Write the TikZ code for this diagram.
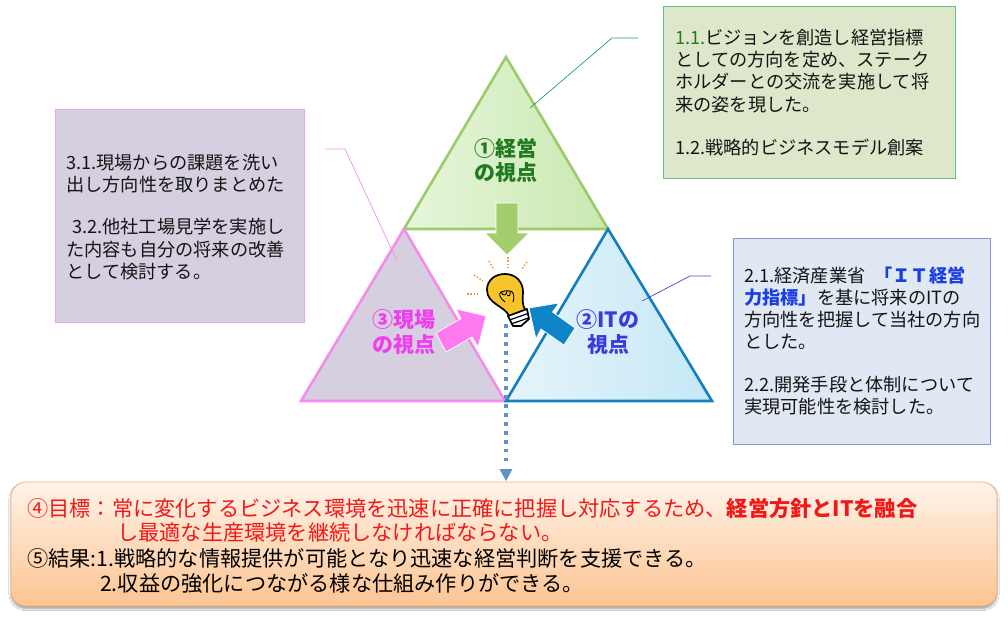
\documentclass[tikz,border=0pt]{standalone}
\usepackage{fontspec}
\setmainfont{Noto Sans CJK JP}
\usetikzlibrary{shadows.blur}
\definecolor{gtxt}{HTML}{1E7B1E}
\definecolor{itxt}{HTML}{3A3AE0}
\definecolor{ptxt}{HTML}{F23CF0}
\definecolor{pborder}{HTML}{F48CEC}
\definecolor{gborder}{HTML}{9CCB6C}
\definecolor{bborder}{HTML}{1380BC}
\definecolor{redtxt}{HTML}{F01818}
\definecolor{bluebold}{HTML}{1A3EE0}
\definecolor{gbox}{HTML}{DFE7CB}
\definecolor{pbox}{HTML}{D5CFE0}
\definecolor{bbox}{HTML}{E0E8F4}
\tikzset{
 x=1pt,y=-1pt,
 bodytxt/.style={anchor=west,inner sep=0pt,font=\fontsize{18.2}{18}\selectfont,text=black!92},
 vhead/.style={anchor=center,align=center,inner sep=0pt,font=\fontsize{21}{24.5}\selectfont\bfseries},
 goaltxt/.style={anchor=west,inner sep=0pt,font=\fontsize{21.2}{21}\selectfont},
 lead/.style={line width=0.7pt},
 fatarrow/.style={draw=white,line width=0.7pt,line join=miter},
 spark/.style={draw=orange!70!brown!80,line width=1.4pt,dash pattern=on 1.5pt off 1.8pt},
 tri/.style={line width=2.6pt,line join=miter},
}
\begin{document}
\begin{tikzpicture}
\useasboundingbox (0,0) rectangle (1008,616);
\fill[white] (0,0) rectangle (1008,616);
% text boxes
\draw[draw={rgb,255:red,102;green,190;blue,136},line width=0.9pt,fill=gbox] (663,6) rectangle (955,178);
\draw[draw={rgb,255:red,240;green,168;blue,232},line width=0.9pt,fill=pbox] (55,109) rectangle (304,322);
\draw[draw={rgb,255:red,136;green,148;blue,216},line width=0.9pt,fill=bbox] (733,238) rectangle (990,444);
% triangles
\path[tri,left color={rgb,255:red,232;green,246;blue,220},right color={rgb,255:red,200;green,232;blue,176},draw=gborder] (506,57) -- (608,229) -- (404,229) -- cycle;
\path[tri,fill=pbox,draw=pborder] (404,229) -- (505,401) -- (301,401) -- cycle;
\path[tri,left color={rgb,255:red,230;green,244;blue,251},right color={rgb,255:red,196;green,232;blue,246},draw=bborder] (608,229) -- (712,401) -- (506,401) -- cycle;
% leaders
\coordinate (gA) at (530,108); \coordinate (gB) at (612,38); \coordinate (gC) at (638,38);
\coordinate (pA) at (397,261); \coordinate (pB) at (345,149); \coordinate (pC) at (325,149);
\coordinate (bA) at (642,301); \coordinate (bB) at (690,276); \coordinate (bC) at (711,276);
\draw[lead,draw={rgb,255:red,30;green,160;blue,110}] (gA)--(gB)--(gC);
\draw[lead,draw=pborder] (pA)--(pB)--(pC);
\draw[lead,draw={rgb,255:red,70;green,70;blue,220}] (bA)--(bB)--(bC);
% fat arrows
\path[fatarrow,fill={rgb,255:red,164;green,206;blue,108}] (496,203) -- (518,203) -- (518,233) -- (529,233) -- (507,255) -- (485,233) -- (496,233) -- cycle;
\path[fatarrow,fill={rgb,255:red,255;green,122;blue,240}] (436,333) -- (461,318.5) -- (456,309) -- (486,316) -- (478,347) -- (472,337) -- (446,352) -- cycle;
\path[fatarrow,fill={rgb,255:red,13;green,132;blue,200}] (529,308) -- (559,303) -- (552.5,312) -- (575,328) -- (564,345) -- (541,329) -- (536,339) -- cycle;
% dotted arrow
\draw[line width=3.8pt,dash pattern=on 3.8pt off 5.1pt,draw={rgb,255:red,94;green,146;blue,199}] (506,324) -- (506,462);
\fill[fill={rgb,255:red,94;green,146;blue,199}] (499.5,469) -- (512.5,469) -- (506,481) -- cycle;
% bulb
\draw[black,line width=1.7pt,fill={rgb,255:red,248;green,196;blue,44},line join=round] (509,316) .. controls (505,306) and (487,304) .. (487,290) .. controls (487,280) and (495,274) .. (505,274) .. controls (516,274) and (523,282) .. (523,292) .. controls (523,299) and (521,303) .. (526,311) -- cycle;
\draw[black,line width=1.7pt,fill=white,line join=round] (508,316) -- (527,309) -- (529,319) -- (521,326) -- (513,326) -- cycle;
\draw[black,line width=1.2pt] (509.5,320) -- (528,313.5) (511,324) -- (528.5,318);
\draw[black,line width=0.9pt] (505,302) .. controls (500,298) and (498,294) .. (501,292) .. controls (504,290) and (507,291) .. (510,291) .. controls (513,291) and (515,295) .. (513,302) (501,292) .. controls (503,297) and (507,295) .. (507,291) (507,295) .. controls (509,297) and (511,295) .. (510,291);
% sparks
\foreach \a/\b/\c/\d in {508/257/508/268,489/261/494/270,527/262/521/270,474/275/483/281,467/294/478/294}{\draw[spark] (\a,\b)--(\c,\d);}
% triangle labels
\node[vhead,text=gtxt] (head1) at (506,160.5) {①経営\\の視点};
\node[vhead,text=itxt] (head2) at (608,332) {②ITの\\視点};
\node[vhead,text=ptxt] (head3) at (404,332) {③現場\\の視点};
% green text
\node[bodytxt] (g1) at (675,38) {\textcolor{gtxt}{1.1.}ビジョンを創造し経営指標};
\node[bodytxt] (g2) at (675,60) {としての方向を定め、ステーク};
\node[bodytxt] (g3) at (675,82) {ホルダーとの交流を実施して将};
\node[bodytxt] (g4) at (675,105) {来の姿を現した。};
\node[bodytxt] (g5) at (675,147) {1.2.戦略的ビジネスモデル創案};
% purple text
\node[bodytxt] (p1) at (66,163) {3.1.現場からの課題を洗い};
\node[bodytxt] (p2) at (66,185) {出し方向性を取りまとめた};
\node[bodytxt] (p3) at (72,227) {3.2.他社工場見学を実施し};
\node[bodytxt] (p4) at (66,250) {た内容も自分の将来の改善};
\node[bodytxt] (p5) at (66,272) {として検討する。};
% blue text
\node[bodytxt] (b1) at (744,276) {2.1.経済産業省\hspace{9pt}\textcolor{bluebold}{\bfseries 「ＩＴ経営}};
\node[bodytxt] (b2) at (744,298) {\textcolor{bluebold}{\bfseries 力指標」}を基に将来のITの};
\node[bodytxt] (b3) at (744,320) {方向性を把握して当社の方向};
\node[bodytxt] (b4) at (744,342) {とした。};
\node[bodytxt] (b5) at (744,385) {2.2.開発手段と体制について};
\node[bodytxt] (b6) at (744,407) {実現可能性を検討した。};
% goal box
\path[rounded corners=15pt,top color={rgb,255:red,255;green,243;blue,233},bottom color={rgb,255:red,253;green,196;blue,145},draw={rgb,255:red,244;green,176;blue,116},line width=0.8pt,blur shadow={shadow xshift=0pt,shadow yshift=-2.5pt,shadow blur steps=6}] (11,482) rectangle (997,606);
\node[goaltxt,text=redtxt] (o1) at (27,508) {④目標：常に変化するビジネス環境を迅速に正確に把握し対応するため、\textbf{経営方針とITを融合}};
\node[goaltxt,text=redtxt] (o2) at (117,532) {し最適な生産環境を継続しなければならない。};
\node[goaltxt,text=black] (o3) at (27,558) {⑤結果:1.戦略的な情報提供が可能となり迅速な経営判断を支援できる。};
\node[goaltxt,text=black] (o4) at (100,583) {2.収益の強化につながる様な仕組み作りができる。};
\end{tikzpicture}
\end{document}
